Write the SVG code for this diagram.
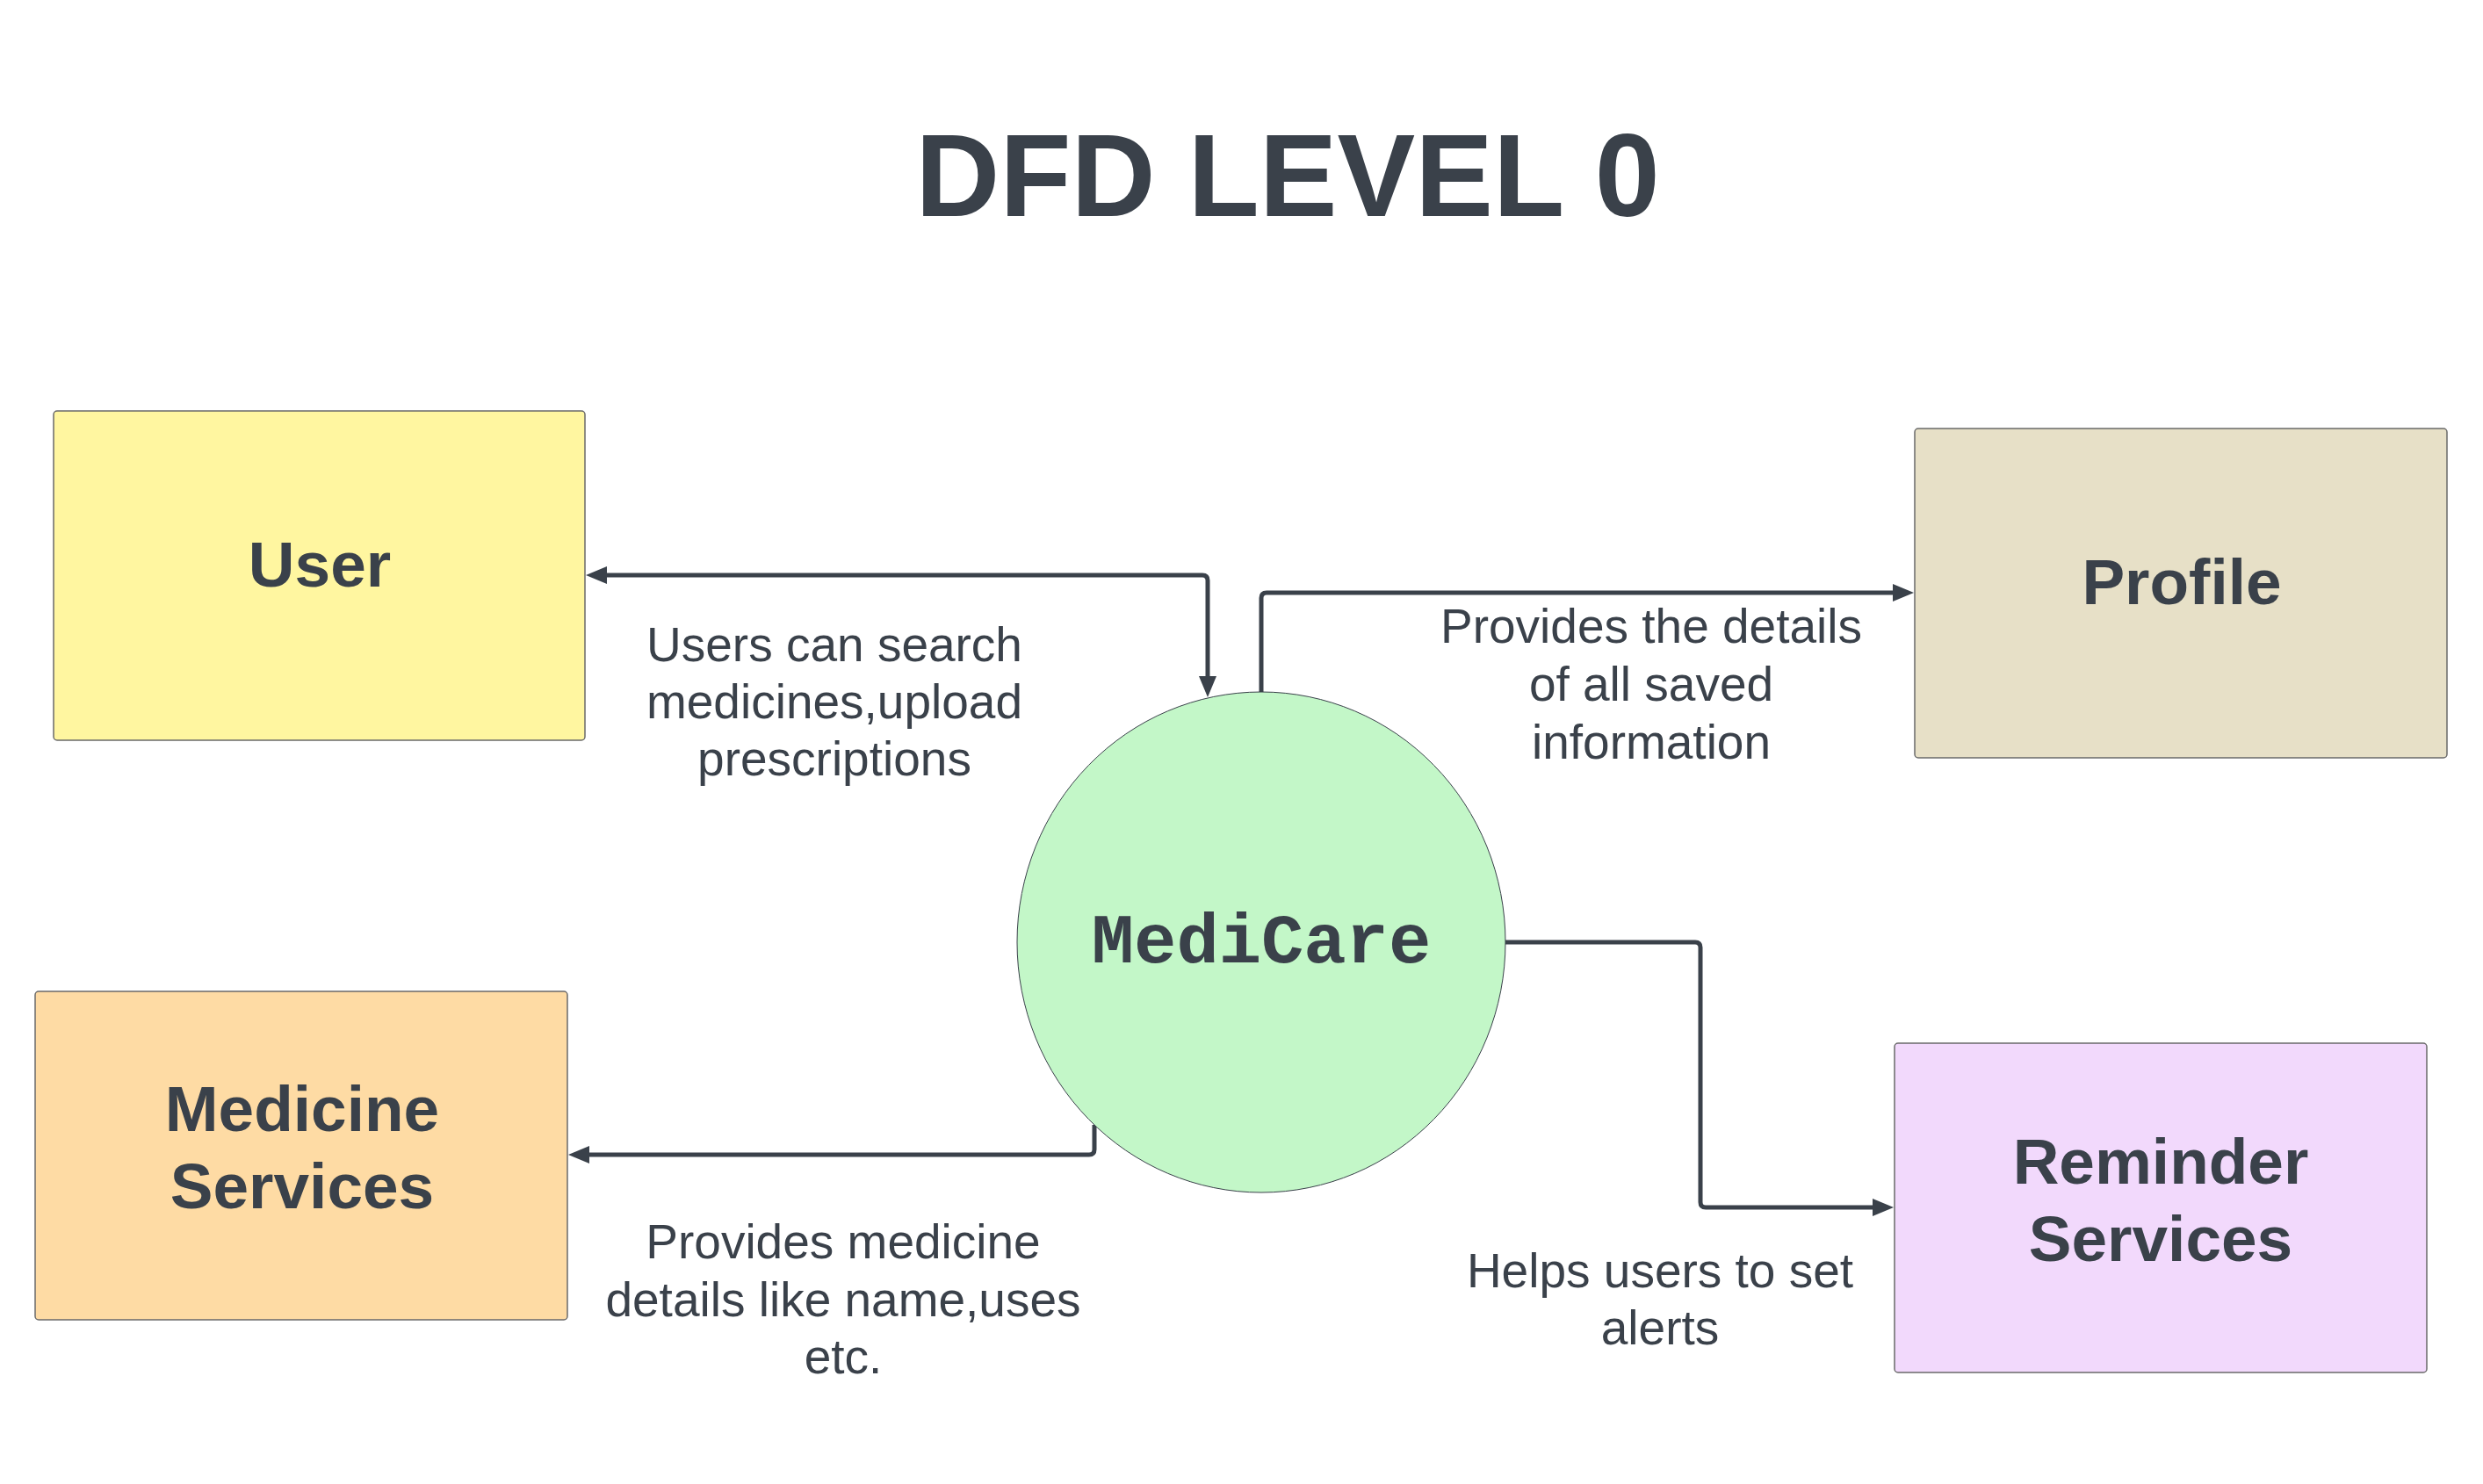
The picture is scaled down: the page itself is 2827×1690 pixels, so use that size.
<svg xmlns="http://www.w3.org/2000/svg" width="2827" height="1690" viewBox="0 0 2827 1690">
<style>
.box{stroke:#6a6a6a;stroke-width:1.5}
.lbl{font-family:"Liberation Sans",Arial,sans-serif;font-weight:bold;font-size:73px;fill:#3a414a;text-anchor:middle}
.flow{font-family:"Liberation Sans",Arial,sans-serif;font-size:55px;fill:#3a414a;text-anchor:middle}
.conn{fill:none;stroke:#3a414a;stroke-width:5}
</style>
<defs>
<marker id="ah" viewBox="0 0 24 20" refX="1" refY="10" markerWidth="24" markerHeight="20" orient="auto-start-reverse" markerUnits="userSpaceOnUse">
<path d="M0,0 L24,10 L0,20 z" fill="#3a414a"/>
</marker>
</defs>
<rect width="2827" height="1690" fill="#ffffff"/>
<text x="1466" y="246" font-family="'Liberation Sans',Arial,sans-serif" font-weight="bold" font-size="133" fill="#3a414a" text-anchor="middle">DFD LEVEL 0</text>

<g id="connectors">
<path class="conn" d="M690,655 H1369 Q1375,655 1375,661 V771" marker-start="url(#ah)" marker-end="url(#ah)"/>
<path class="conn" d="M1436,788 V681 Q1436,675 1442,675 H2156" marker-end="url(#ah)"/>
<path class="conn" d="M1714,1073 H1930 Q1936,1073 1936,1079 V1369 Q1936,1375 1942,1375 H2133" marker-end="url(#ah)"/>
<path class="conn" d="M1246,1281 V1309 Q1246,1315 1240,1315 H670" marker-end="url(#ah)"/>
</g>

<g id="user">
<rect class="box" x="61" y="468" width="605" height="375" rx="4" fill="#fff6a0"/>
<text class="lbl" x="364" y="668">User</text>
</g>
<g id="profile">
<rect class="box" x="2180" y="488" width="606" height="375" rx="4" fill="#e7e0c7"/>
<text class="lbl" x="2484" y="688">Profile</text>
</g>
<g id="medicine-services">
<rect class="box" x="40" y="1129" width="606" height="374" rx="4" fill="#fedba4"/>
<text class="lbl" x="344" y="1288">Medicine</text>
<text class="lbl" x="344" y="1376">Services</text>
</g>
<g id="reminder-services">
<rect class="box" x="2157" y="1188" width="606" height="375" rx="4" fill="#f2d9fc"/>
<text class="lbl" x="2460" y="1348">Reminder</text>
<text class="lbl" x="2460" y="1436">Services</text>
</g>
<g id="medicare">
<ellipse cx="1436" cy="1073" rx="278" ry="285" fill="#c3f7c8" stroke="#3a414a" stroke-width="1"/>
<text x="1436" y="1096" font-family="'Liberation Mono','Courier New',monospace" font-weight="bold" font-size="80.5" fill="#3a414a" text-anchor="middle">MediCare</text>
</g>

<g id="flow-labels">
<text class="flow" x="950" y="753">Users can search</text>
<text class="flow" x="950" y="818">medicines,upload</text>
<text class="flow" x="950" y="883">prescriptions</text>
<text class="flow" x="1880" y="732">Provides the details</text>
<text class="flow" x="1880" y="798">of all saved</text>
<text class="flow" x="1880" y="864">information</text>
<text class="flow" x="960" y="1433">Provides medicine</text>
<text class="flow" x="960" y="1499">details like name,uses</text>
<text class="flow" x="960" y="1564">etc.</text>
<text class="flow" x="1890" y="1466">Helps users to set</text>
<text class="flow" x="1890" y="1531">alerts</text>
</g>
</svg>
